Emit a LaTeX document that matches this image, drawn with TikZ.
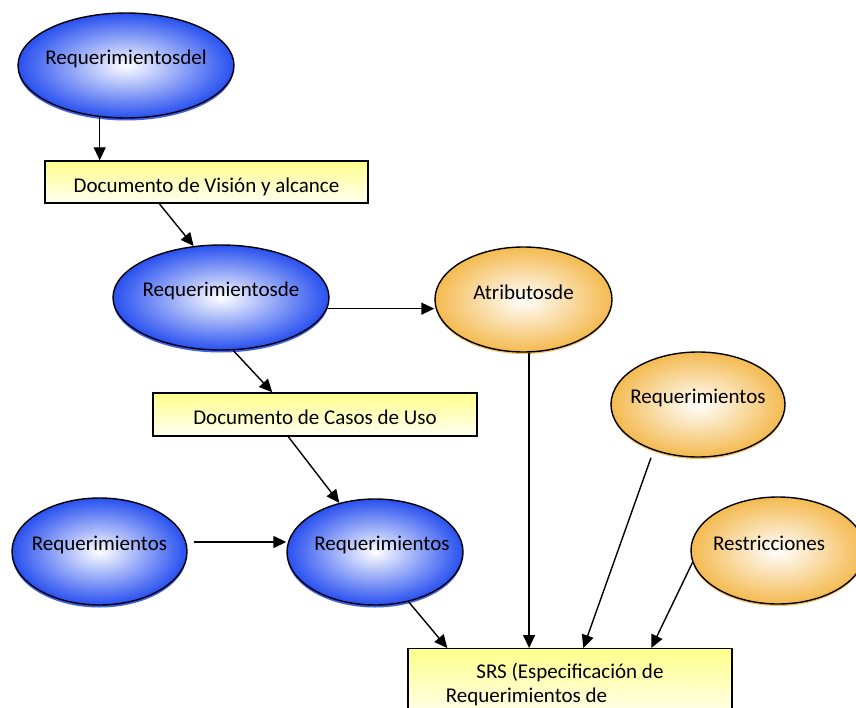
\documentclass[tikz,border=0pt]{standalone}
\usepackage{fontspec}
\setmainfont{Carlito}
\usetikzlibrary{shapes.geometric,arrows.meta,calc,shadows}
\definecolor{azulbola}{RGB}{40,80,240}
\definecolor{naranjabola}{RGB}{244,186,80}
\definecolor{amarillocaja}{RGB}{255,255,140}

\begin{document}
\begin{tikzpicture}[x=1pt,y=-1pt,
    txt/.style={font=\fontsize{21}{24}\selectfont},
    bola/.style={ellipse,draw,line width=1.4pt,inner sep=0pt,outer color=azulbola,inner color=white,
        drop shadow={shadow xshift=0pt,shadow yshift=-2.5pt,fill=azulbola,opacity=0.9}},
    bolanar/.style={ellipse,draw,line width=1.4pt,inner sep=0pt,outer color=naranjabola,inner color=white,
        drop shadow={shadow xshift=0pt,shadow yshift=-2pt,fill=naranjabola,opacity=0.9}},
    caja/.style={draw,line width=1.4pt,top color=amarillocaja,bottom color=amarillocaja!12,txt,inner sep=0pt},
    flecha/.style={-{Triangle[length=13pt,width=12pt]},line width=1.4pt}]
    \useasboundingbox (0,0) rectangle (856,708);
    \clip (0,0) rectangle (856,708);

    % Requerimientos y documentos
    \node[bola,minimum width=216pt,minimum height=105pt,label={[txt,yshift=7pt]center:Requerimientosdel}] (rdel) at (126,65.5) {};
    \node[caja,minimum width=323pt,minimum height=42pt,text height=22pt,text depth=0pt] (vision) at (206.5,182) {Documento de Visión y alcance};
    \node[bola,minimum width=216pt,minimum height=105pt,label={[txt,yshift=7pt]center:Requerimientosde}] (rde) at (221,297.5) {};
    \node[bolanar,minimum width=177pt,minimum height=105pt,label={[txt,yshift=7pt]center:Atributosde}] (atr) at (523.5,299.5) {};
    \node[caja,minimum width=324pt,minimum height=43pt,text height=20pt,text depth=0pt] (casos) at (315,414.5) {Documento de Casos de Uso};
    \node[bolanar,minimum width=174pt,minimum height=105pt,label={[txt,yshift=7pt]center:Requerimientos}] (rreq) at (698,404.5) {};
    \node[bola,minimum width=175pt,minimum height=107pt,label={[txt,yshift=7pt]center:Requerimientos}] (rizq) at (99.5,551.5) {};
    \node[bola,minimum width=176pt,minimum height=106pt,label={[txt,yshift=7pt,xshift=7pt]center:Requerimientos}] (rmed) at (375,552) {};
    \node[bolanar,minimum width=174pt,minimum height=107pt,label={[txt,yshift=7pt,xshift=-9pt]center:Restricciones}] (rres) at (778,550.5) {};

    % SRS
    \node[caja,anchor=north,minimum width=324pt,align=center,inner ysep=14pt] (srs) at (570,648)
        {SRS (Especificación de\\Requerimientos de\phantom{ Software)}};

    % Flechas
    \draw[flecha] (rdel.243) -- (rdel.243 |- vision.north);
    \coordinate (a2) at ($(vision.south west)+(115,0)$);
    \draw[flecha] (a2) -- (rde.118);
    \draw[flecha] (rde.-6) -- (rde.-6 -| atr.west);
    \coordinate (a4) at ($(casos.north west)+(120,0)$);
    \draw[flecha] (rde.-77) -- (a4);
    \coordinate (a5) at ($(casos.south west)+(136,0)$);
    \draw[flecha] (a5) -- (rmed.126);
    \coordinate (a6) at ($(rizq.east)+(6,-9.5)$);
    \draw[flecha] (a6) -- (a6 -| rmed.west);
    \coordinate (a7) at ($(srs.north west)+(40,0)$);
    \draw[flecha] (rmed.-56) -- (a7);
    \draw[flecha] (atr.-84) -- (atr.-84 |- srs.north);
    \coordinate (a9i) at ($(rreq.south)+(-47,0)$);
    \coordinate (a9f) at ($(srs.north west)+(176,0)$);
    \draw[flecha] (a9i) -- (a9f);
    \coordinate (a10) at ($(srs.north west)+(244,0)$);
    \draw[flecha] (rres.188) -- (a10);
\end{tikzpicture}
\end{document}
